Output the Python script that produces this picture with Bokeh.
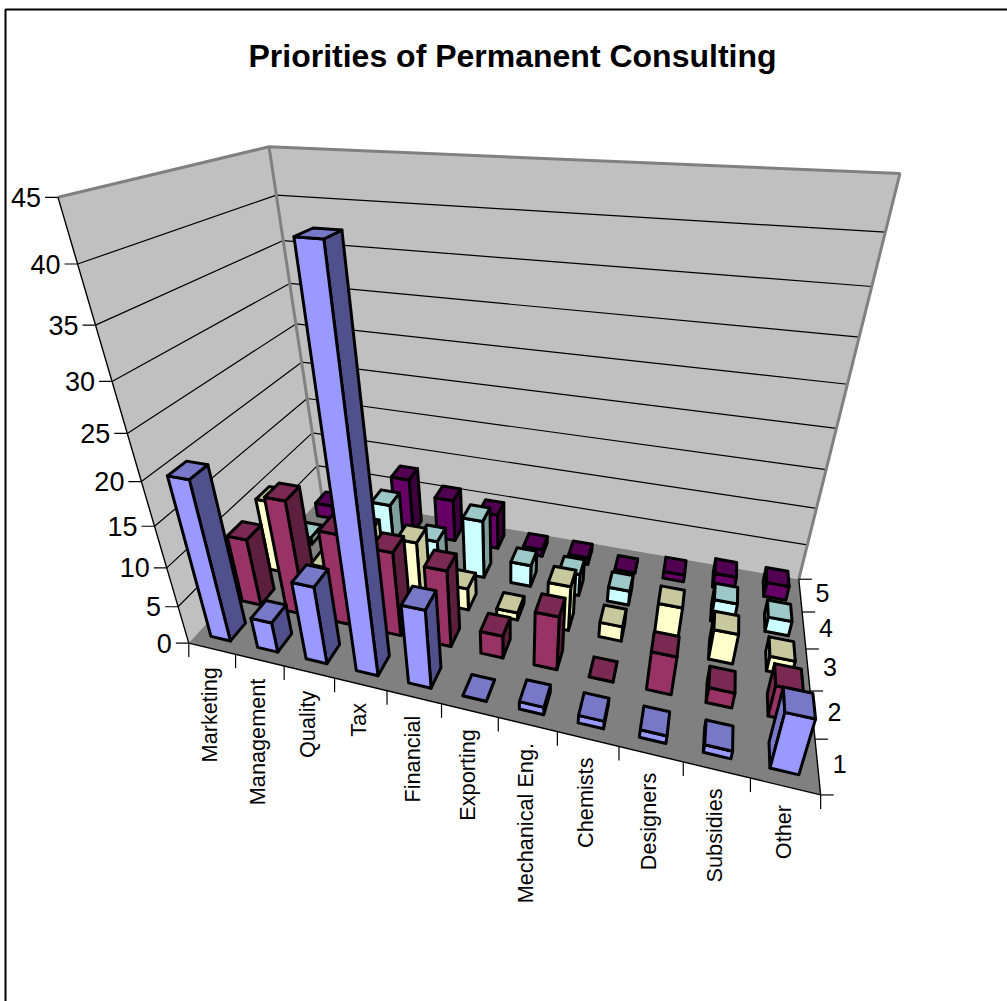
import numpy as np
from bokeh.plotting import figure
from bokeh.core.properties import value
from bokeh.embed import file_html
from bokeh.resources import INLINE

title = "Priorities of Permanent Consulting"
categories = ["Marketing", "Management", "Quality", "Tax", "Financial", "Exporting",
              "Mechanical Eng.", "Chemists", "Designers", "Subsidies", "Other"]
series_labels = ["1", "2", "3", "4", "5"]
value_ticks = [0, 5, 10, 15, 20, 25, 30, 35, 40, 45]

series_1 = [20, 4, 10, 43, 10, 0, 1, 1, 1, 1, 7]
series_2 = [9, 15, 12, 11, 10, 3, 7, 0, 5, 2, 4]
series_3 = [10, 2, 8, 8, 3, 1, 6, 2, 6, 4, 2]
series_4 = [1, 1, 8, 4, 8, 3, 3, 2, 1, 3, 2]
series_5 = [2, 1, 8, 6, 5, 1, 1, 0, 1, 2, 2]
all_series = [series_1, series_2, series_3, series_4, series_5]

front_colors = ["#9999FF", "#993366", "#FFFFCC", "#CCFFFF", "#660066"]
top_colors = ["#7878C8", "#7A2952", "#C8C89F", "#9CC8C8", "#520052"]
side_colors = ["#50508C", "#5C1F3D", "#C8C89F", "#7F9F9F", "#3D003D"]

BAR_WIDTH = 0.42
BAR_DEPTH = 0.48

# Camera calibration: model point (category, series, value) -> page pixel.
_x_ticks = [189, 236, 284, 334, 387, 441, 498, 557, 618, 682, 749, 819]
_y_ticks = [794, 738, 691, 648, 611, 577]
_x_edge = [819, 815, 811, 806, 802, 798]
_z_ticks = [643, 605, 566, 525, 480, 432, 381, 325, 263, 197]
calib = []
for i, x in enumerate(_x_ticks):
    calib.append(((i, 0, 0), (x, 643 + (x - 189) * 152 / 630)))
for j, y in enumerate(_y_ticks):
    calib.append(((11, j, 0), (_x_edge[j], y)))
for k, y in enumerate(_z_ticks):
    calib.append(((0, 0, k * 5), (57 + (y - 197) * 132 / 446, y)))
calib += [((0, 5, 0), (320, 497)), ((0, 5, 45), (269, 147)), ((11, 5, 45), (900, 174))]

rows = []
for (u, v, w), (x, y) in calib:
    rows.append([u, v, w, 1, 0, 0, 0, 0, -x * u, -x * v, -x * w, -x])
    rows.append([0, 0, 0, 0, u, v, w, 1, -y * u, -y * v, -y * w, -y])
_, _, vt = np.linalg.svd(np.array(rows, dtype=float))
P = vt[-1].reshape(3, 4)
camera = np.linalg.svd(P)[2][-1]
camera = camera[:3] / camera[3]


def project(u, v, w):
    h = P @ np.array([u, v, w, 1.0])
    return float(h[0] / h[2]), float(h[1] / h[2])


def poly(points):
    pts = [project(*q) for q in points]
    return [a for a, _ in pts], [b for _, b in pts]


p = figure(width=1007, height=1001, x_range=(0, 1007), y_range=(1001, 0),
           output_backend="svg", toolbar_location=None, min_border=0,
           outline_line_color=None, background_fill_color="white", border_fill_color="white")
p.axis.visible = False
p.grid.visible = False

# Outer chart frame
p.line([1007, 5, 5], [9, 9, 1001], line_color="black", line_width=2)

# Walls and floor
wx, wy = poly([(0, 0, 0), (0, 0, 45), (0, 5, 45), (0, 5, 0)])
p.patch(wx, wy, fill_color="#C0C0C0", line_color=None)
bx, by = poly([(0, 5, 0), (0, 5, 45), (11, 5, 45), (11, 5, 0)])
p.patch(bx, by, fill_color="#C0C0C0", line_color=None)
fx, fy = poly([(0, 0, 0), (11, 0, 0), (11, 5, 0), (0, 5, 0)])
p.patch(fx, fy, fill_color="#808080", line_color=None)

for t in value_ticks[1:-1]:
    lx, ly = poly([(0, 0, t), (0, 5, t), (11, 5, t)])
    p.line(lx, ly, line_color="black", line_width=1.2)

for seg in ([(0, 0, 45), (0, 5, 45), (11, 5, 45), (11, 5, 0)], [(0, 5, 45), (0, 5, 0)]):
    lx, ly = poly(seg)
    p.line(lx, ly, line_color="#808080", line_width=3)

# Axis lines and tick marks
lx, ly = poly([(0, 0, 45), (0, 0, 0), (11, 0, 0), (11, 5, 0)])
p.line(lx, ly, line_color="black", line_width=1.4)

FONT = value("Liberation Sans")
for t in value_ticks:
    x0, y0 = project(0, 0, t)
    p.line([x0 - 13, x0], [y0, y0], line_color="black", line_width=1.2)
    p.text([x0 - 17], [y0], text=[str(t)], text_align="right", text_baseline="middle",
           text_font=FONT, text_font_size="27px", text_color="black")

for i in range(12):
    x0, y0 = project(i, 0, 0)
    p.line([x0, x0], [y0, y0 + 14], line_color="black", line_width=1.2)
for i, c in enumerate(categories):
    x0, y0 = project(i + 0.5, 0, 0)
    p.text([x0 - 2], [y0 + 18.5], text=[c], angle=[np.pi / 2], angle_units="rad",
           text_align="right", text_baseline="middle",
           text_font=FONT, text_font_size="21.7px", text_color="black")

for j in range(6):
    x0, y0 = project(11, j, 0)
    p.line([x0, x0 + 13], [y0, y0], line_color="black", line_width=1.2)
for j, s in enumerate(series_labels):
    x0, y0 = project(11, j + 0.5, 0)
    p.text([x0 + 15], [y0 - 2], text=[s], text_align="left", text_baseline="middle",
           text_font=FONT, text_font_size="25px", text_color="black")

# Bars, painted from the far corner toward the viewer
hw, hd = BAR_WIDTH / 2, BAR_DEPTH / 2
order = sorted(((i, j) for j in range(5) for i in range(11)),
               key=lambda a: (-a[1], -abs(a[0] + 0.5 - camera[0])))
for i, j in order:
    val = all_series[j][i]
    uc, vc = i + 0.5, j + 0.5
    u0, u1, v0, v1 = uc - hw, uc + hw, vc - hd, vc + hd
    faces = []
    if camera[0] > u1:
        faces.append(([(u1, v0, 0), (u1, v1, 0), (u1, v1, val), (u1, v0, val)], side_colors[j]))
    if camera[0] < u0:
        faces.append(([(u0, v0, 0), (u0, v1, 0), (u0, v1, val), (u0, v0, val)], top_colors[j]))
    faces.append(([(u0, v0, 0), (u1, v0, 0), (u1, v0, val), (u0, v0, val)], front_colors[j]))
    faces.append(([(u0, v0, val), (u1, v0, val), (u1, v1, val), (u0, v1, val)], top_colors[j]))
    for pts, colr in faces:
        fxs, fys = poly(pts)
        p.patch(fxs, fys, fill_color=colr, line_color="black", line_width=3, line_join="round")

p.text([512], [55.5], text=[title], text_align="center", text_baseline="middle",
       text_font=FONT, text_font_style="bold", text_font_size="32px", text_color="black")

open("out.html", "w").write(file_html(p, INLINE))
